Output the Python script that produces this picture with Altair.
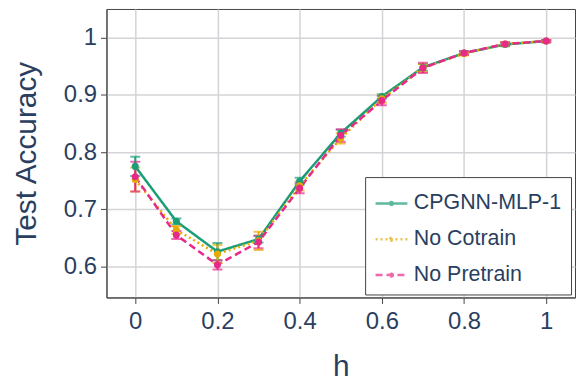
import altair as alt
import pandas as pd

h = [0.0, 0.1, 0.2, 0.3, 0.4, 0.5, 0.6, 0.7, 0.8, 0.9, 1.0]
series_names = ["CPGNN-MLP-1", "No Cotrain", "No Pretrain"]
cpgnn = [0.775, 0.679, 0.626, 0.648, 0.749, 0.833, 0.897, 0.948, 0.973, 0.988, 0.994]
cpgnn_err = [0.017, 0.005, 0.015, 0.006, 0.006, 0.006, 0.004, 0.006, 0.003, 0.003, 0.002]
no_cotrain = [0.752, 0.664, 0.622, 0.645, 0.741, 0.824, 0.893, 0.947, 0.972, 0.989, 0.994]
no_cotrain_err = [0.021, 0.007, 0.016, 0.016, 0.008, 0.009, 0.007, 0.007, 0.003, 0.003, 0.002]
no_pretrain = [0.757, 0.655, 0.603, 0.643, 0.737, 0.829, 0.890, 0.947, 0.973, 0.989, 0.994]
no_pretrain_err = [0.026, 0.007, 0.008, 0.011, 0.009, 0.011, 0.008, 0.009, 0.003, 0.003, 0.002]

rows = []
for name, vals, errs in zip(series_names, [cpgnn, no_cotrain, no_pretrain],
                            [cpgnn_err, no_cotrain_err, no_pretrain_err]):
    for x, v, e in zip(h, vals, errs):
        rows.append({"h": x, "acc": v, "lo": v - e, "hi": v + e, "series": name,
                     "order": series_names.index(name)})
df = pd.DataFrame(rows)

colors = ["#1b9e77", "#e6ab02", "#e7298a"]
dashes = [[1, 0], [2, 3], [7, 4]]
FONT = "Liberation Sans"
TXT = "#2a3f5f"

xs = alt.Scale(domain=[-0.07, 1.07], nice=False, zero=False)
ys = alt.Scale(domain=[0.546, 1.05], nice=False, zero=False)
cs = alt.Scale(domain=series_names, range=colors)

x_enc = alt.X("h:Q", scale=xs, title="h",
              axis=alt.Axis(values=[0, 0.2, 0.4, 0.6, 0.8, 1.0], format="~g"))
y_enc = alt.Y("acc:Q", scale=ys, title="Test Accuracy",
              axis=alt.Axis(values=[0.6, 0.7, 0.8, 0.9, 1.0], format="~g"))

legend = alt.Legend(
    title=None, orient="none", legendX=260, legendY=169,
    symbolType="M-1,0H1M-0.09,0A0.09,0.09 0 1,1 0.09,0A0.09,0.09 0 1,1 -0.09,0",
    symbolSize=1024, symbolStrokeWidth=2.5, labelFontSize=21.5, labelColor=TXT,
    labelFont=FONT, strokeColor="#444", fillColor="white", padding=9,
    rowPadding=8, labelLimit=300, labelOffset=5,
)

lines = alt.Chart(df).mark_line(strokeWidth=2.5, clip=True).encode(
    x=x_enc, y=y_enc,
    color=alt.Color("series:N", scale=cs, sort=series_names, legend=legend),
    strokeDash=alt.StrokeDash("series:N", sort=series_names,
                              scale=alt.Scale(domain=series_names, range=dashes),
                              legend=legend),
    order="order:Q",
)

errs = alt.Chart(df).mark_errorbar(ticks={"size": 10, "thickness": 2}, thickness=2, clip=True).encode(
    x=alt.X("h:Q", scale=xs),
    y=alt.Y("lo:Q", scale=ys, title="Test Accuracy"),
    y2="hi:Q",
    color=alt.Color("series:N", scale=cs, sort=series_names),
)

pts = alt.Chart(df).mark_circle(size=50, opacity=1, clip=True).encode(
    x=alt.X("h:Q", scale=xs),
    y=alt.Y("acc:Q", scale=ys),
    color=alt.Color("series:N", scale=cs, sort=series_names),
)

chart = alt.layer(lines, errs, pts).properties(
    width=471, height=290,
    padding={"left": 3, "top": 0, "right": 2, "bottom": 0},
).configure_view(
    stroke="#444", strokeWidth=1,
).configure_axis(
    labelFont=FONT, titleFont=FONT, labelFontSize=24, titleFontSize=30,
    labelColor=TXT, titleColor=TXT, titleFontWeight="normal",
    domainColor="#444", tickColor="#444", tickSize=6,
    gridColor="#d4d4d8", gridWidth=1.5,
).configure_axisY(titlePadding=22, labelPadding=4).configure_axisX(titlePadding=18, labelPadding=6)

chart.save("out.html", embed_options={"renderer": "svg", "actions": False})
